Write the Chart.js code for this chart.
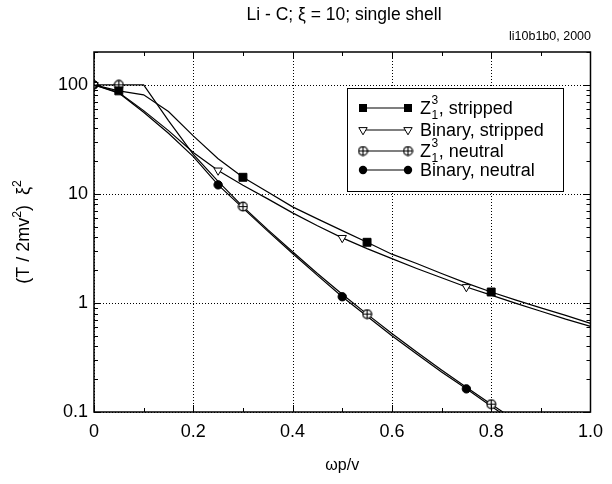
<!DOCTYPE html>
<html>
<head>
<meta charset="utf-8">
<script src="https://cdn.jsdelivr.net/npm/chart.js@4.4.1/dist/chart.umd.min.js"></script>
<style>
  body { margin: 0; background: #fff; }
  #wrap { width: 612px; height: 484px; }
</style>
</head>
<body>
<div id="wrap"><canvas id="chart" width="612" height="484"></canvas></div>
<script>
/* omega p / v */
const xs = [0, 0.05, 0.1, 0.15, 0.2, 0.25, 0.3, 0.35, 0.4, 0.45, 0.5,
            0.55, 0.6, 0.65, 0.7, 0.75, 0.8, 0.85, 0.9, 0.95, 1.0];

/* (T / 2mv^2) xi^2 */
const zStripped = [100, 88, 81, 57, 34, 21, 14.2, 10.4, 7.6, 5.9, 4.6,
                   3.6, 2.8, 2.3, 1.86, 1.52, 1.26, 1.06, 0.9, 0.77, 0.65];
const bStripped = [100, 85, 58, 38, 24, 16.4, 12, 9.0, 6.7, 5.1, 3.95,
                   3.15, 2.55, 2.07, 1.7, 1.4, 1.18, 0.99, 0.84, 0.71, 0.61];
const zNeutral  = [100, 100, 100, 47, 23, 13, 7.65, 4.7, 2.95, 1.86, 1.2,
                   0.79, 0.525, 0.355, 0.243, 0.169, 0.118, 0.083];
const bNeutral  = [100, 84, 56, 36, 22, 12.1, 7.4, 4.55, 2.84, 1.79, 1.14,
                   0.755, 0.5, 0.34, 0.233, 0.163, 0.113, 0.079];

/* where the symbols sit */
const zMarkX = [0.05, 0.3, 0.55, 0.8];
const bMarkX = [0, 0.25, 0.5, 0.75];

const seriesLabels = ['Z₁³, stripped', 'Binary, stripped', 'Z₁³, neutral', 'Binary, neutral'];

const xTickVals = [0, 0.2, 0.4, 0.6, 0.8, 1.0];
const xTickLabels = ['0', '0.2', '0.4', '0.6', '0.8', '1.0'];
const yTickVals = [0.1, 1, 10, 100];
const yTickLabels = ['0.1', '1', '10', '100'];

const FONT = "'Liberation Sans', Arial, sans-serif";

// circle with a plus inside
const circPlus = document.createElement('canvas');
circPlus.width = 11; circPlus.height = 11;
(function () {
  const c = circPlus.getContext('2d');
  c.fillStyle = '#fff'; c.strokeStyle = '#000'; c.lineWidth = 1.2;
  c.beginPath(); c.arc(5.5, 5.5, 4.4, 0, 2 * Math.PI); c.fill(); c.stroke();
  c.beginPath();
  c.moveTo(5.5, 1); c.lineTo(5.5, 10);
  c.moveTo(1, 5.5); c.lineTo(10, 5.5);
  c.stroke();
})();

function pts(ys) {
  return ys.map((y, i) => ({x: xs[i], y: y}));
}
function radii(ys, marks, r) {
  return ys.map((y, i) => marks.some(m => Math.abs(m - xs[i]) < 1e-6) ? r : 0);
}

const styles = [
  {pointStyle: 'rect', r: 5.6, fill: '#000', rot: 0, marks: zMarkX, ys: zStripped},
  {pointStyle: 'triangle', r: 4.8, fill: '#fff', rot: 180, marks: bMarkX, ys: bStripped},
  {pointStyle: circPlus, r: 4.5, fill: '#fff', rot: 0, marks: zMarkX, ys: zNeutral},
  {pointStyle: 'circle', r: 4.2, fill: '#000', rot: 0, marks: bMarkX, ys: bNeutral}
];

const datasets = styles.map((s, i) => ({
  label: seriesLabels[i],
  data: pts(s.ys),
  borderColor: '#000',
  borderWidth: 1.2,
  tension: 0,
  pointStyle: s.pointStyle,
  pointRotation: s.rot,
  pointRadius: radii(s.ys, s.marks, s.r),
  pointBackgroundColor: s.fill,
  pointBorderColor: '#000',
  pointBorderWidth: 1,
  pointHoverRadius: 0
}));

function drawMarker(ctx, idx, x, y) {
  ctx.save();
  ctx.strokeStyle = '#000';
  ctx.lineWidth = 1;
  if (idx === 0) {
    ctx.fillStyle = '#000';
    ctx.fillRect(x - 4, y - 4, 8, 8);
  } else if (idx === 1) {
    ctx.fillStyle = '#fff';
    ctx.beginPath();
    ctx.moveTo(x - 4.2, y - 2.4); ctx.lineTo(x + 4.2, y - 2.4); ctx.lineTo(x, y + 4.8);
    ctx.closePath(); ctx.fill(); ctx.stroke();
  } else if (idx === 2) {
    ctx.drawImage(circPlus, x - 5.5, y - 5.5);
  } else {
    ctx.fillStyle = '#000';
    ctx.beginPath(); ctx.arc(x, y, 4.2, 0, 2 * Math.PI); ctx.fill();
  }
  ctx.restore();
}

// text with small raised pieces, left aligned, middle baseline
function richText(ctx, parts, x, y, size) {
  parts.forEach(p => {
    const sz = p.sup ? size * 0.68 : size;
    ctx.font = sz + 'px ' + FONT;
    ctx.fillText(p.t, x, p.sup ? y - size * 0.38 : y);
    x += ctx.measureText(p.t).width;
  });
  return x;
}
function richWidth(ctx, parts, size) {
  let w = 0;
  parts.forEach(p => {
    ctx.font = (p.sup ? size * 0.68 : size) + 'px ' + FONT;
    w += ctx.measureText(p.t).width;
  });
  return w;
}

// dotted grid at the labelled ticks
const dottedGrid = {
  id: 'dottedGrid',
  beforeDatasetsDraw(chart) {
    const ctx = chart.ctx;
    const a = chart.chartArea;
    ctx.save();
    ctx.strokeStyle = '#000';
    ctx.lineWidth = 1;
    ctx.setLineDash([1, 2]);
    ctx.beginPath();
    xTickVals.forEach(v => {
      const px = Math.round(chart.scales.x.getPixelForValue(v)) + 0.5;
      ctx.moveTo(px, a.top); ctx.lineTo(px, a.bottom);
    });
    yTickVals.forEach(v => {
      const py = Math.round(chart.scales.y.getPixelForValue(v)) + 0.5;
      ctx.moveTo(a.left, py); ctx.lineTo(a.right, py);
    });
    ctx.stroke();
    ctx.restore();
  }
};

const decorations = {
  id: 'decorations',
  afterDatasetsDraw(chart) {
    const ctx = chart.ctx;
    const a = chart.chartArea;
    const xs_ = chart.scales.x, ys_ = chart.scales.y;
    ctx.save();

    // minor ticks
    ctx.strokeStyle = '#000';
    ctx.lineWidth = 1;
    ctx.beginPath();
    for (let d = 0.1; d < 200; d *= 10) {
      for (let k = 1; k <= 9; k++) {
        const v = d * k;
        if (v > 200) break;
        const py = Math.round(ys_.getPixelForValue(v)) + 0.5;
        const len = k === 1 ? 7 : 4;
        ctx.moveTo(a.left, py); ctx.lineTo(a.left + len, py);
        ctx.moveTo(a.right, py); ctx.lineTo(a.right - len, py);
      }
    }
    for (let i = 0; i <= 10; i++) {
      const px = Math.round(xs_.getPixelForValue(i / 10)) + 0.5;
      const len = i % 2 === 0 ? 7 : 4;
      ctx.moveTo(px, a.bottom); ctx.lineTo(px, a.bottom - len);
      ctx.moveTo(px, a.top); ctx.lineTo(px, a.top + len);
    }
    ctx.stroke();

    // frame
    ctx.lineWidth = 1.5;
    ctx.strokeRect(a.left, a.top, a.right - a.left, a.bottom - a.top);

    // legend box
    const bx = 347, by = 88, bw = 216, bh = 103;
    ctx.fillStyle = '#fff';
    ctx.fillRect(bx, by, bw, bh);
    ctx.lineWidth = 1;
    ctx.strokeRect(bx + 0.5, by + 0.5, bw, bh);
    const rows = [108, 130, 151, 170];
    seriesLabels.forEach((lab, i) => {
      const y = rows[i];
      ctx.beginPath();
      ctx.lineWidth = 1.2;
      ctx.moveTo(363, y); ctx.lineTo(408, y);
      ctx.stroke();
      drawMarker(ctx, i, 363, y);
      drawMarker(ctx, i, 408, y);
      ctx.fillStyle = '#000';
      ctx.textBaseline = 'middle';
      ctx.textAlign = 'left';
      let tx = 420;
      let rest = lab;
      if (lab.startsWith('Z₁³')) {
        ctx.font = '18px ' + FONT;
        ctx.fillText('Z', tx, y + 1);
        tx += ctx.measureText('Z').width;
        ctx.font = '12px ' + FONT;
        ctx.fillText('3', tx + 0.5, y - 7);
        ctx.fillText('1', tx + 0.5, y + 8);
        tx += ctx.measureText('3').width + 1;
        rest = lab.slice(3);
      }
      ctx.font = '18px ' + FONT;
      ctx.fillText(rest, tx, y + 1);
    });

    // titles
    ctx.fillStyle = '#000';
    ctx.textAlign = 'center';
    ctx.textBaseline = 'middle';
    ctx.font = '17.5px ' + FONT;
    ctx.fillText('Li - C; ξ = 10; single shell', 344, 15);
    ctx.font = '12.5px ' + FONT;
    ctx.textAlign = 'right';
    ctx.fillText('li10b1b0, 2000', 591, 37);
    ctx.textAlign = 'center';
    ctx.font = '16px ' + FONT;
    ctx.fillText('ωp/v', (a.left + a.right) / 2, 466);

    // y title, rotated
    const yParts = [{t: '(T / 2mv'}, {t: '2', sup: true}, {t: ')  '}, {t: 'ξ'}, {t: '2', sup: true}];
    ctx.textAlign = 'left';
    ctx.translate(24, 232);
    ctx.rotate(-Math.PI / 2);
    const w = richWidth(ctx, yParts, 18);
    richText(ctx, yParts, -w / 2, 0, 18);
    ctx.restore();
  }
};

const config = {
  type: 'line',
  data: { datasets: datasets },
  options: {
    responsive: false,
    animation: false,
    events: [],
    layout: { padding: { left: 0, right: 13, top: 52, bottom: 0 } },
    plugins: {
      legend: { display: false },
      tooltip: { enabled: false }
    },
    scales: {
      x: {
        type: 'linear',
        min: 0,
        max: 1,
        afterFit: s => { s.height = 72; },
        afterBuildTicks: s => { s.ticks = xTickVals.map(v => ({value: v})); },
        grid: { display: false, drawTicks: false },
        border: { display: false },
        ticks: {
          autoSkip: false,
          maxRotation: 0,
          padding: 9,
          color: '#000',
          font: { family: FONT, size: 18 },
          callback: (v, i) => xTickLabels[i]
        }
      },
      y: {
        type: 'logarithmic',
        min: 0.1,
        max: 200,
        afterFit: s => { s.width = 94; },
        afterBuildTicks: s => { s.ticks = yTickVals.map(v => ({value: v})); },
        grid: { display: false, drawTicks: false },
        border: { display: false },
        ticks: {
          autoSkip: false,
          padding: 6,
          color: '#000',
          font: { family: FONT, size: 18 },
          callback: (v, i) => yTickLabels[i]
        }
      }
    }
  },
  plugins: [dottedGrid, decorations]
};

var myChart = new Chart(document.getElementById('chart'), config);
</script>
</body>
</html>
